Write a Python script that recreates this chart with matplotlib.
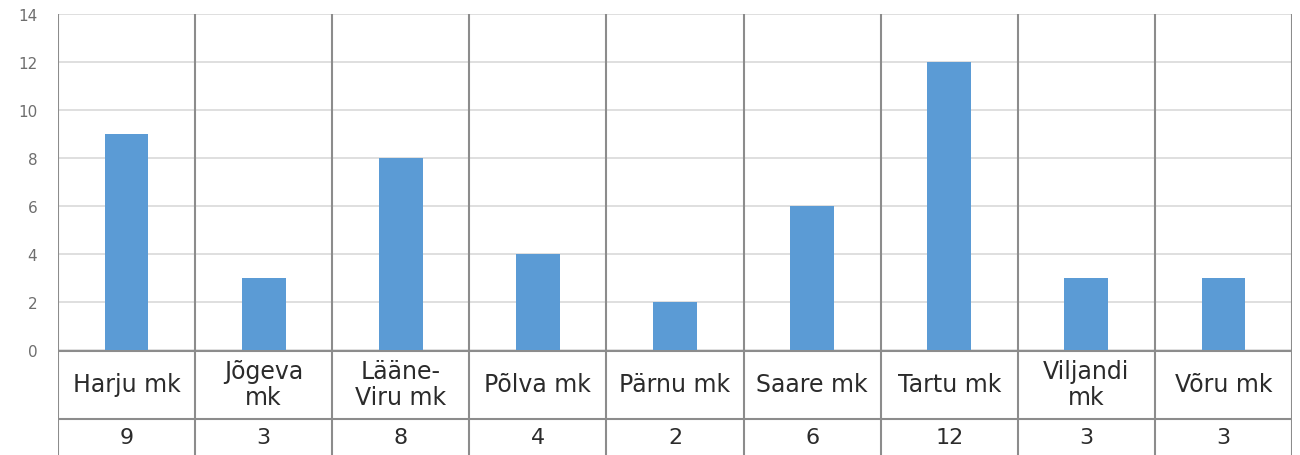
import numpy as np
import matplotlib
matplotlib.use("Agg")
import matplotlib.pyplot as plt

# data
categories = ["Harju mk", "Jõgeva\nmk", "Lääne-\nViru mk", "Põlva mk", "Pärnu mk",
              "Saare mk", "Tartu mk", "Viljandi\nmk", "Võru mk"]
values = [9, 3, 8, 4, 2, 6, 12, 3, 3]
yticks = [0, 2, 4, 6, 8, 10, 12, 14]

W, H = 1300, 456
fig = plt.figure(figsize=(W / 100, H / 100), dpi=100)
left, right = 58 / W, 1292 / W
top, zero = 1 - 15 / H, 1 - 351 / H

ax = fig.add_axes([left, zero, right - left, top - zero])
n = len(categories)
x = np.arange(n)
ax.bar(x, values, width=0.32, color="#5b9bd5", zorder=3)
ax.set_xlim(-0.5, n - 0.5)
ax.set_ylim(0, 14)
ax.set_yticks(yticks)
ax.tick_params(axis="y", length=0, labelsize=11, labelcolor="#6e6e6e", pad=15)
ax.set_xticks([])
for s in ax.spines.values():
    s.set_visible(False)
ax.yaxis.grid(True, color="#d9d9d9", linewidth=1.2, zorder=0)
for b in np.arange(-0.5, n, 1.0):
    ax.axvline(b, color="#8c8c8c", linewidth=1.5, zorder=2)

# data table below
tax = fig.add_axes([left, 0, right - left, zero])
tax.set_xlim(-0.5, n - 0.5)
tax.set_ylim(H, 351)   # pixel rows, top = 351
tax.axis("off")
line_c = "#8c8c8c"
tax.axhline(351.5, color=line_c, linewidth=1.5)
tax.axhline(420, color=line_c, linewidth=1.5)
for b in np.arange(-0.5, n, 1.0):
    tax.axvline(b, color=line_c, linewidth=1.5)
for i in range(n):
    tax.text(x[i], 385, categories[i], ha="center", va="center", fontsize=17,
             color="#2b2b2b", linespacing=1.15)
    tax.text(x[i], 438, str(values[i]), ha="center", va="center", fontsize=16,
             color="#2b2b2b")

fig.savefig("out.png", dpi=100)
